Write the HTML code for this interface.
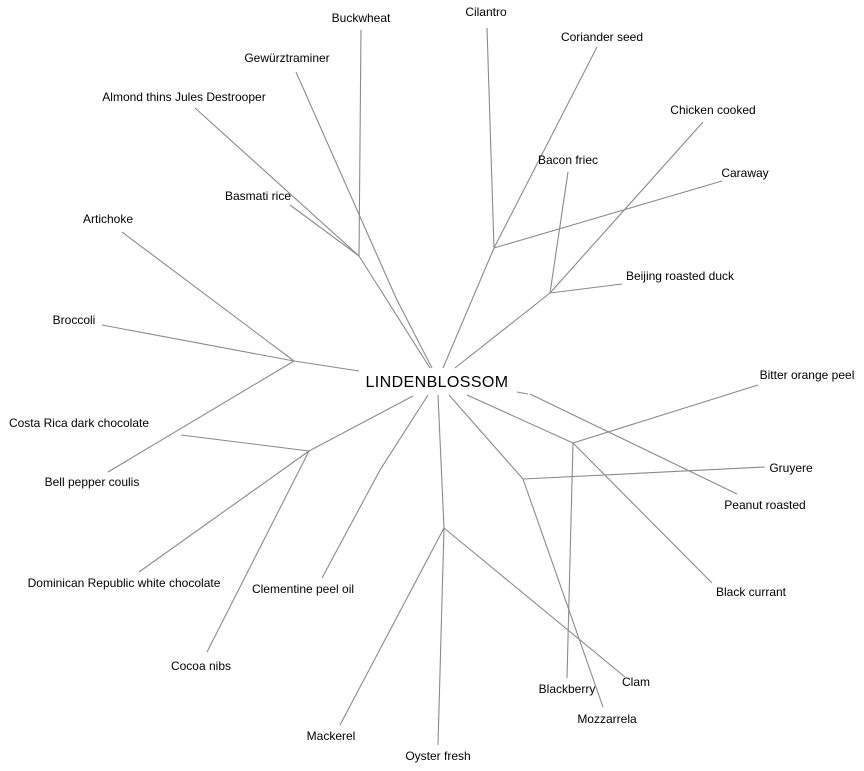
<!DOCTYPE html>
<html><head><meta charset="utf-8"><style>
html,body{margin:0;padding:0;background:#fff;}
svg{display:block;}
text{font-family:"Liberation Sans",sans-serif;font-size:12px;fill:#000;text-anchor:middle;}
line,polyline{stroke:#8a8a8a;stroke-width:1.1;fill:none;}
</style></head><body>
<svg width="864" height="771" viewBox="0 0 864 771">
<line x1="430" y1="368" x2="359" y2="256"/>
<polyline points="432,368 396,298 296,72"/>
<line x1="443" y1="368" x2="494" y2="248"/>
<line x1="455" y1="368" x2="550" y2="293"/>
<line x1="359" y1="371" x2="294" y2="361"/>
<line x1="413" y1="396" x2="309" y2="451"/>
<polyline points="428,395 380,470 322,578"/>
<line x1="438" y1="395" x2="444" y2="528"/>
<line x1="449" y1="395" x2="523" y2="479"/>
<line x1="467" y1="395" x2="573" y2="443"/>
<line x1="517" y1="392" x2="528" y2="394"/>
<line x1="530" y1="394" x2="737" y2="494"/>
<line x1="359" y1="256" x2="361" y2="30"/>
<line x1="359" y1="256" x2="290" y2="205"/>
<line x1="359" y1="256" x2="195" y2="108"/>
<line x1="494" y1="248" x2="487" y2="28"/>
<line x1="494" y1="248" x2="597" y2="47"/>
<line x1="494" y1="248" x2="722" y2="181"/>
<line x1="550" y1="293" x2="568" y2="172"/>
<line x1="550" y1="293" x2="703" y2="122"/>
<line x1="550" y1="293" x2="622" y2="284"/>
<line x1="294" y1="361" x2="122" y2="232"/>
<line x1="294" y1="361" x2="102" y2="325"/>
<line x1="294" y1="361" x2="108" y2="472"/>
<line x1="309" y1="451" x2="181" y2="435"/>
<line x1="309" y1="451" x2="139" y2="572"/>
<line x1="309" y1="451" x2="207" y2="652"/>
<line x1="444" y1="528" x2="340" y2="725"/>
<line x1="444" y1="528" x2="438" y2="745"/>
<line x1="444" y1="528" x2="625" y2="677"/>
<line x1="523" y1="479" x2="765" y2="467"/>
<line x1="523" y1="479" x2="603" y2="707"/>
<line x1="573" y1="443" x2="758" y2="385"/>
<line x1="573" y1="443" x2="712" y2="583"/>
<line x1="573" y1="443" x2="567" y2="678"/>

<text x="437" y="387" style="font-size:16px;letter-spacing:0.4px">LINDENBLOSSOM</text>
<text x="361" y="22">Buckwheat</text>
<text x="486" y="16">Cilantro</text>
<text x="602" y="41">Coriander seed</text>
<text x="287" y="62">Gewürztraminer</text>
<text x="184" y="101">Almond thins Jules Destrooper</text>
<text x="713" y="114">Chicken cooked</text>
<text x="568" y="164">Bacon friec</text>
<text x="745" y="177">Caraway</text>
<text x="258" y="200">Basmati rice</text>
<text x="108" y="223">Artichoke</text>
<text x="680" y="280">Beijing roasted duck</text>
<text x="74" y="324">Broccoli</text>
<text x="807" y="379">Bitter orange peel</text>
<text x="79" y="427">Costa Rica dark chocolate</text>
<text x="791" y="472">Gruyere</text>
<text x="92" y="486">Bell pepper coulis</text>
<text x="765" y="509">Peanut roasted</text>
<text x="124" y="587">Dominican Republic white chocolate</text>
<text x="303" y="593">Clementine peel oil</text>
<text x="751" y="596">Black currant</text>
<text x="201" y="670">Cocoa nibs</text>
<text x="636" y="686">Clam</text>
<text x="567" y="693">Blackberry</text>
<text x="607" y="723">Mozzarrela</text>
<text x="331" y="740">Mackerel</text>
<text x="438" y="760">Oyster fresh</text>
</svg>
</body></html>
